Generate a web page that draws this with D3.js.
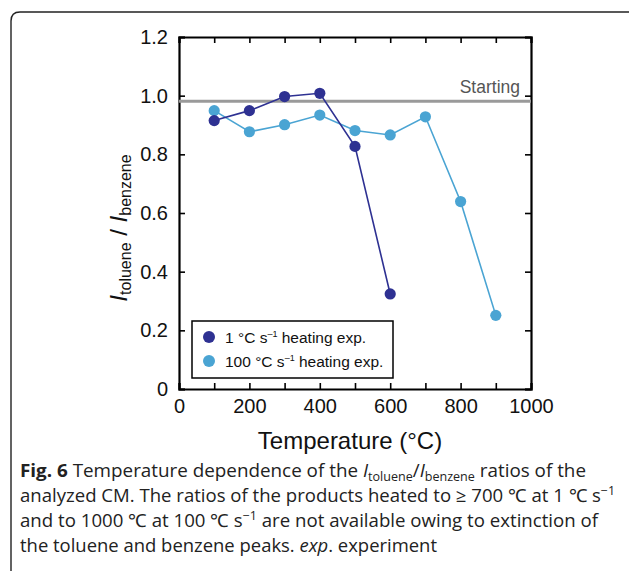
<!DOCTYPE html>
<html>
<head>
<meta charset="utf-8">
<script src="https://cdn.jsdelivr.net/npm/d3@7"></script>
<style>
  body { margin: 0; background: #fff; }
  svg { display: block; }
</style>
</head>
<body>
<svg id="fig" width="629" height="571"></svg>
<script>
// values
var temps1 = [100, 200, 300, 400, 500, 600];
var ratio1 = [0.915, 0.949, 0.997, 1.008, 0.827, 0.324];
var temps100 = [100, 200, 300, 400, 500, 600, 700, 800, 900];
var ratio100 = [0.949, 0.877, 0.901, 0.934, 0.881, 0.866, 0.928, 0.639, 0.251];
var startingRatio = 0.981;
var xTicks = [0, 200, 400, 600, 800, 1000];
var xMinor = [100, 300, 500, 700, 900];
var yTicks = [0, 0.2, 0.4, 0.6, 0.8, 1.0, 1.2];

var dark = "#2e3192", light = "#4aa4d3";

var svg = d3.select("#fig");

// figure frame (rounded top-left corner)
svg.append("path")
  .attr("d", "M11,571 L11,21 Q11,12 20,12 L629,12")
  .attr("fill", "none").attr("stroke", "#222").attr("stroke-width", 1.4);

var pLeft = 179, pRight = 531, pTop = 37, pBottom = 389;
var x = d3.scaleLinear().domain([0, 1000]).range([pLeft, pRight]);
var y = d3.scaleLinear().domain([0, 1.2]).range([pBottom, pTop]);

var g = svg.append("g");
var tickFont = "Liberation Sans, Arial, sans-serif";

// axes: ticks pointing inward
var xb = g.append("g").attr("transform", "translate(0," + pBottom + ")")
  .call(d3.axisBottom(x).tickValues(xTicks.concat(xMinor)).tickSize(-6).tickPadding(12)
    .tickFormat(function(d){ return xTicks.indexOf(d) >= 0 ? d : ""; }));
var xt = g.append("g").attr("transform", "translate(0," + pTop + ")")
  .call(d3.axisTop(x).tickValues(xTicks.concat(xMinor)).tickSize(-6).tickFormat(""));
var yl = g.append("g").attr("transform", "translate(" + pLeft + ",0)")
  .call(d3.axisLeft(y).tickValues(yTicks).tickSize(-6).tickPadding(11)
    .tickFormat(function(d){ return d === 0 ? "0" : d3.format(".1f")(d); }));
var yr = g.append("g").attr("transform", "translate(" + pRight + ",0)")
  .call(d3.axisRight(y).tickValues(yTicks).tickSize(-6).tickFormat(""));

[xb, xt, yl, yr].forEach(function(a){
  a.select(".domain").attr("stroke", "#000").attr("stroke-width", 2.2);
  a.selectAll(".tick line").attr("stroke", "#000").attr("stroke-width", 1.6);
  a.selectAll(".tick text").attr("font-family", tickFont).attr("font-size", 20).attr("fill", "#111");
});
xb.selectAll(".tick text").attr("dy", "0.6em");

// starting line
g.append("line")
  .attr("x1", x(0)).attr("x2", x(1000))
  .attr("y1", y(startingRatio)).attr("y2", y(startingRatio))
  .attr("stroke", "#9a9a9a").attr("stroke-width", 3.2);
g.append("text").attr("x", 520).attr("y", y(startingRatio) - 8)
  .attr("text-anchor", "end").attr("font-family", tickFont).attr("font-size", 17.5)
  .attr("fill", "#555").text("Starting");

// series
function drawSeries(xs, ys, col) {
  var pts = xs.map(function(t, i){ return [t, ys[i]]; });
  g.append("path").datum(pts)
    .attr("fill", "none").attr("stroke", col).attr("stroke-width", 1.6)
    .attr("d", d3.line().x(function(d){ return x(d[0]); }).y(function(d){ return y(d[1]); }));
  g.selectAll(null).data(pts).enter().append("circle")
    .attr("cx", function(d){ return x(d[0]); })
    .attr("cy", function(d){ return y(d[1]); })
    .attr("r", 5.6).attr("fill", col);
}
drawSeries(temps100, ratio100, light);
drawSeries(temps1, ratio1, dark);

// legend
var lg = g.append("g");
lg.append("rect").attr("x", 192).attr("y", 321).attr("width", 201).attr("height", 57)
  .attr("fill", "#fff").attr("stroke", "#000").attr("stroke-width", 1.5);
var legendItems = [["1", dark], ["100", light]];
legendItems.forEach(function(it, i){
  var cy = 337 + i * 24;
  lg.append("circle").attr("cx", 209).attr("cy", cy).attr("r", 6).attr("fill", it[1]);
  var t = lg.append("text").attr("x", 225).attr("y", cy + 5.5)
    .attr("font-family", tickFont).attr("font-size", 15.5).attr("fill", "#111");
  t.append("tspan").text(it[0] + " \u00b0C s");
  t.append("tspan").attr("font-size", 9).attr("dy", -6).text("\u20131");
  t.append("tspan").attr("dy", 6).text(" heating exp.");
});

// axis titles
g.append("text").attr("x", 350).attr("y", 449).attr("text-anchor", "middle")
  .attr("font-family", tickFont).attr("font-size", 24).attr("fill", "#111")
  .text("Temperature (\u00b0C)");

var yt = g.append("text").attr("transform", "translate(127,228) rotate(-90)")
  .attr("text-anchor", "middle").attr("font-family", tickFont).attr("font-size", 24).attr("fill", "#111");
yt.append("tspan").attr("font-style", "italic").text("I");
yt.append("tspan").attr("font-size", 16).attr("dy", 4).text("toluene");
yt.append("tspan").attr("dy", -4).text(" / ");
yt.append("tspan").attr("font-style", "italic").text("I");
yt.append("tspan").attr("font-size", 16).attr("dy", 4).text("benzene");

// caption
var capFont = "Open Sans, sans-serif";
var cap = svg.append("g").attr("font-family", capFont).attr("font-size", 18).attr("fill", "#222");
var l1 = cap.append("text").attr("x", 20).attr("y", 477)
  .attr("textLength", 566).attr("lengthAdjust", "spacingAndGlyphs");
l1.append("tspan").attr("font-weight", "bold").text("Fig. 6");
l1.append("tspan").text("  Temperature dependence of the ");
l1.append("tspan").attr("font-style", "italic").text("I");
l1.append("tspan").attr("font-size", 12).attr("dy", 4).text("toluene");
l1.append("tspan").attr("dy", -4).text("/");
l1.append("tspan").attr("font-style", "italic").text("I");
l1.append("tspan").attr("font-size", 12).attr("dy", 4).text("benzene");
l1.append("tspan").attr("dy", -4).text(" ratios of the");

var l2 = cap.append("text").attr("x", 20).attr("y", 502)
  .attr("textLength", 595).attr("lengthAdjust", "spacingAndGlyphs");
l2.append("tspan").text("analyzed CM. The ratios of the products heated to \u2265 700 \u2103 at 1 \u2103 s");
l2.append("tspan").attr("font-size", 12).attr("dy", -7).text("\u22121");

var l3 = cap.append("text").attr("x", 20).attr("y", 527)
  .attr("textLength", 578).attr("lengthAdjust", "spacingAndGlyphs");
l3.append("tspan").text("and to 1000 \u2103 at 100 \u2103 s");
l3.append("tspan").attr("font-size", 12).attr("dy", -7).text("\u22121");
l3.append("tspan").attr("dy", 7).text(" are not available owing to extinction of");

var l4 = cap.append("text").attr("x", 20).attr("y", 552)
  .attr("textLength", 417).attr("lengthAdjust", "spacingAndGlyphs");
l4.append("tspan").text("the toluene and benzene peaks. ");
l4.append("tspan").attr("font-style", "italic").text("exp");
l4.append("tspan").text(". experiment");
</script>
</body>
</html>
